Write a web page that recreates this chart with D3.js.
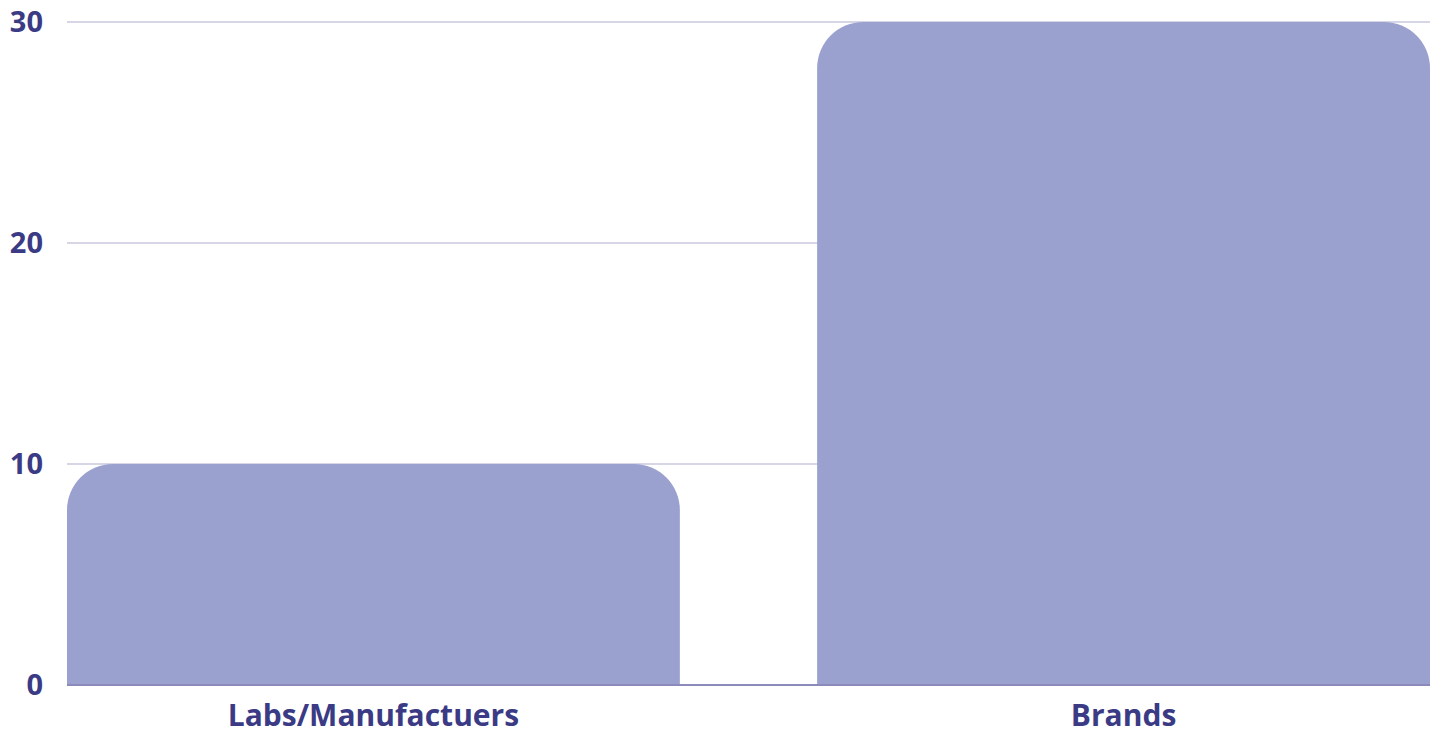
<!DOCTYPE html>
<html>
<head>
<meta charset="utf-8">
<script src="https://cdn.jsdelivr.net/npm/d3@7"></script>
<style>
  body { margin: 0; background: #fff; }
  text { font-family: "Open Sans", sans-serif; font-weight: 700; fill: #3b3a85; }
</style>
</head>
<body>
<div id="viz"></div>
<script>
var categories = ["Labs/Manufactuers", "Brands"];
var values = [10, 30];
var yTicks = [0, 10, 20, 30];

var width = 1438,
    height = 731;
var margin = { top: 22, right: 8, bottom: 46, left: 67 };

var svg = d3.select("#viz")
  .append("svg")
  .attr("width", width)
  .attr("height", height);

var x = d3.scaleBand()
  .domain(categories)
  .range([margin.left, width - margin.right])
  .paddingInner(0.183)
  .paddingOuter(0);

var y = d3.scaleLinear()
  .domain([0, 30])
  .range([height - margin.bottom, margin.top]);

// gridlines
svg.append("g")
  .selectAll("line")
  .data(yTicks)
  .enter()
  .append("line")
  .attr("x1", margin.left)
  .attr("x2", width - margin.right)
  .attr("y1", function(d) { return y(d); })
  .attr("y2", function(d) { return y(d); })
  .attr("stroke", "#c9c8de")
  .attr("stroke-width", 1.5);

// y labels
svg.append("g")
  .selectAll("text")
  .data(yTicks)
  .enter()
  .append("text")
  .attr("x", 43)
  .attr("y", function(d) { return y(d); })
  .attr("dy", "0.36em")
  .attr("text-anchor", "end")
  .style("font-size", "29px")
  .text(function(d) { return d; });

// bars with rounded top corners
var r = 46;
function barPath(d, i) {
  var x0 = x(categories[i]), x1 = x0 + x.bandwidth();
  var y0 = y(0), y1 = y(d);
  var rr = Math.min(r, (y0 - y1));
  return "M" + x0 + "," + y0 +
    "V" + (y1 + rr) +
    "A" + rr + "," + rr + " 0 0 1 " + (x0 + rr) + "," + y1 +
    "H" + (x1 - rr) +
    "A" + rr + "," + rr + " 0 0 1 " + x1 + "," + (y1 + rr) +
    "V" + y0 + "Z";
}

svg.append("g")
  .selectAll("path")
  .data(values)
  .enter()
  .append("path")
  .attr("d", barPath)
  .attr("fill", "#9ba1cf");

// baseline
svg.append("line")
  .attr("x1", margin.left)
  .attr("x2", width - margin.right)
  .attr("y1", y(0))
  .attr("y2", y(0))
  .attr("stroke", "#8c89bb")
  .attr("stroke-width", 2);

// x labels
svg.append("g")
  .selectAll("text")
  .data(categories)
  .enter()
  .append("text")
  .attr("x", function(d) { return x(d) + x.bandwidth() / 2; })
  .attr("y", 726)
  .attr("text-anchor", "middle")
  .style("font-size", "30px")
  .text(function(d) { return d; });
</script>
</body>
</html>
